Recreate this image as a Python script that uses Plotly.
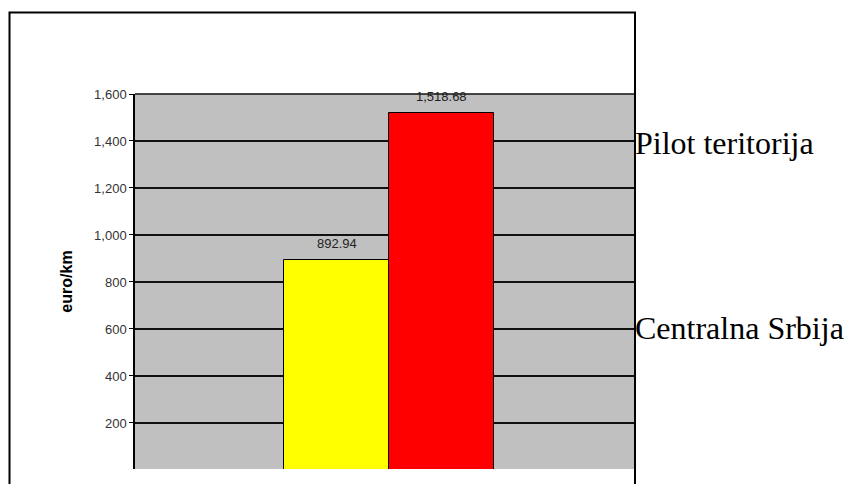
import plotly.graph_objects as go

# Cost per kilometre, by territory
regions = ["Centralna Srbija", "Pilot teritorija"]
values = [892.94, 1518.68]
bar_colors = ["#FFFF00", "#FF0000"]
y_ticks = [0, 200, 400, 600, 800, 1000, 1200, 1400, 1600]
y_title = "euro/km"

W, H = 847, 484
L, R, T, B = 135, 213, 94, 15
plot_w = W - L - R
plot_h = H - T - B


def px_x(p):
    return (p - L) / plot_w


def px_y(p):
    return (H - B - p) / plot_h


fig = go.Figure()
fig.add_trace(go.Bar(
    x=regions,
    y=values,
    marker=dict(color=bar_colors, line=dict(color="#000000", width=1)),
    width=1.0,
    showlegend=False,
    hoverinfo="skip",
))

annotations = []
# value labels above bars
for name, v in zip(regions, values):
    annotations.append(dict(
        x=name, y=v, xref="x", yref="y",
        text=f"{v:,.2f}", showarrow=False,
        yshift=17, yanchor="middle", xanchor="center",
        font=dict(family="Liberation Sans, Arial", size=13, color="#222222"),
    ))

# series names set to the right of the chart frame
name_rows = {"Pilot teritorija": 143, "Centralna Srbija": 328}
for name in regions:
    annotations.append(dict(
        x=px_x(633), y=px_y(name_rows[name]), xref="paper", yref="paper",
        text=name, showarrow=False, xanchor="left", yanchor="middle",
        font=dict(family="Liberation Serif, Times New Roman", size=32, color="#000000"),
    ))

fig.update_layout(
    width=W, height=H,
    margin=dict(l=L, r=R, t=T, b=B, pad=0),
    paper_bgcolor="#FFFFFF",
    plot_bgcolor="#C0C0C0",
    bargap=0,
    annotations=annotations,
    shapes=[
        # top edge of the plot area (the topmost gridline sits on it)
        dict(type="line", xref="paper", yref="paper",
             x0=0, x1=1, y0=1, y1=1,
             line=dict(color="#111111", width=1.5), layer="above"),
        # outer frame around the chart
        dict(type="rect", xref="paper", yref="paper",
             x0=px_x(9.5), x1=px_x(635), y0=px_y(500), y1=px_y(12.5),
             line=dict(color="#000000", width=2), fillcolor="rgba(0,0,0,0)",
             layer="above"),
    ],
    xaxis=dict(
        type="category",
        range=[-1.919, 2.833],
        showticklabels=False,
        showgrid=False,
        zeroline=False,
        showline=False,
        ticks="",
    ),
    yaxis=dict(
        range=[4, 1600],
        tickvals=y_ticks,
        tickformat=",",
        ticks="outside",
        ticklen=4,
        tickcolor="#000000",
        tickwidth=1,
        tickfont=dict(family="Liberation Sans, Arial", size=13, color="#333333"),
        showgrid=True,
        gridcolor="#111111",
        gridwidth=1.5,
        zeroline=False,
        showline=True,
        linecolor="#000000",
        linewidth=1.5,
        title=dict(text=y_title, standoff=18,
                   font=dict(family="Liberation Sans, Arial", size=16, color="#000000",
                             weight="bold")),
    ),
)

fig.write_html("out.html")
